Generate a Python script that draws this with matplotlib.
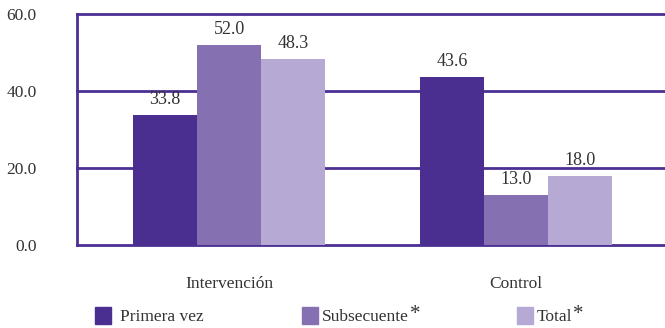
import matplotlib.pyplot as plt
from matplotlib.patches import Rectangle
import numpy as np

# grupos y series
grupos = ["Intervención", "Control"]
series = ["Primera vez", "Subsecuente", "Total"]
primera_vez = [33.8, 43.6]
subsecuente = [52.0, 13.0]
total = [48.3, 18.0]
yticks = [0, 20, 40, 60]

colores = ["#4a2f91", "#8571b2", "#b6aad5"]
morado = "#4b2f93"
gris = "#333333"

plt.rcParams["font.family"] = ["Liberation Serif", "DejaVu Serif"]

fig = plt.figure(figsize=(6.65, 3.28), dpi=100)
ax = fig.add_axes([0.1158, 0.253, 0.8842, 0.704])

x = np.arange(len(grupos))
ancho = 0.223
valores = [primera_vez, subsecuente, total]
for i, (vals, c) in enumerate(zip(valores, colores)):
    barras = ax.bar(x + (i - 1) * ancho, vals, width=ancho, color=c, zorder=3)
    for b, v in zip(barras, vals):
        ax.annotate("%.1f" % v, (b.get_x() + b.get_width() / 2, v),
                    xytext=(0, 5), textcoords="offset points",
                    ha="center", va="bottom", fontsize=13, color=gris, zorder=4)

ax.set_xlim(-0.53, -0.53 + 588 / 287)
ax.set_ylim(0, 60)
ax.set_yticks(yticks)
ax.set_yticklabels(["%.1f" % t for t in yticks], fontsize=12.5, color=gris)
ax.set_xticks([])
for t in yticks:
    ax.axhline(t, color=morado, lw=2, zorder=2, clip_on=False)
ax.tick_params(axis="y", length=0, pad=29)
for s in ["top", "right", "bottom"]:
    ax.spines[s].set_visible(False)
ax.spines["left"].set_color(morado)
ax.spines["left"].set_linewidth(2)

# etiquetas de grupo
for xi, g in zip(x, grupos):
    ax.text(xi, -0.17, g, transform=ax.get_xaxis_transform(),
            ha="center", va="center", fontsize=12.5, color=gris)

# leyenda hecha a mano
W, H = 665, 328
pos = [(95, 120), (302, 322), (517, 537)]
for (xc, xt), c, lab in zip(pos, colores, series):
    fig.patches.append(Rectangle((xc / W, 1 - 324 / H), 16 / W, 17 / H,
                                 transform=fig.transFigure, color=c))
    t = fig.text(xt / W, 1 - 317 / H, lab, ha="left", va="center",
                 fontsize=12.5, color=gris)
    if lab != "Primera vez":
        # asterisco pegado al final del texto
        ax.annotate("*", xy=(1, 0.68), xycoords=t, xytext=(0.5, 0),
                    textcoords="offset points", ha="left", va="center",
                    fontsize=15, color=gris, annotation_clip=False)

fig.savefig("out.png", dpi=100)
